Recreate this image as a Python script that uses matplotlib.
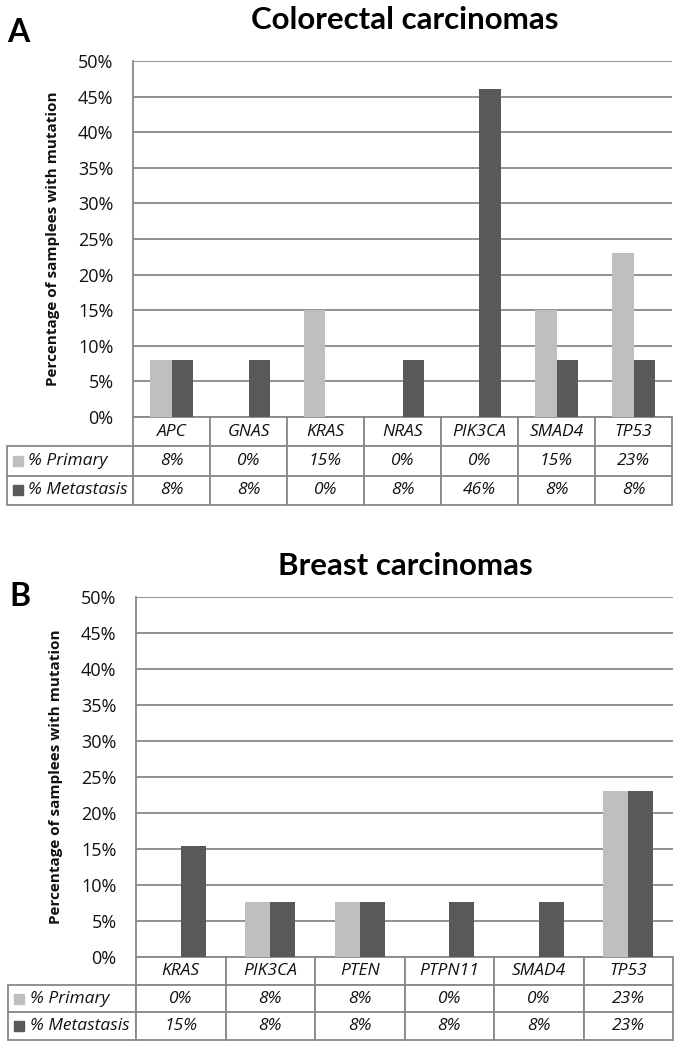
import matplotlib
matplotlib.use("Agg")
import matplotlib.pyplot as plt
from matplotlib.patches import Rectangle

# ---------------- datos ----------------
genes_crc = ["APC", "GNAS", "KRAS", "NRAS", "PIK3CA", "SMAD4", "TP53"]
primary_crc = [8, 0, 15, 0, 0, 15, 23]
metastasis_crc = [8, 8, 0, 8, 46, 8, 8]

genes_brca = ["KRAS", "PIK3CA", "PTEN", "PTPN11", "SMAD4", "TP53"]
primary_brca = [0, 7.7, 7.7, 0, 0, 23.1]
metastasis_brca = [15.4, 7.7, 7.7, 7.7, 7.7, 23.1]

series_names = ["% Primary", "% Metastasis"]
yticks = [0, 5, 10, 15, 20, 25, 30, 35, 40, 45, 50]

COL_PRI = "#BFBFBF"
COL_MET = "#595959"
GRID = "#888888"
TXT = "#111111"
SANS = ["Open Sans", "DejaVu Sans"]
TITLE_FONT = ["Lato", "DejaVu Sans"]

plt.rcParams["font.family"] = SANS

fig = plt.figure(figsize=(6.81, 10.5), dpi=100)


def panel(rect, genes, pri, met, title, letter, label_w, table_h, title_y, letter_xy):
    ax = fig.add_axes(rect)
    n = len(genes)
    x = list(range(n))
    w = 0.28
    ax.bar([i - w / 2 for i in x], pri, width=w, color=COL_PRI, zorder=3)
    ax.bar([i + w / 2 for i in x], met, width=w, color=COL_MET, zorder=3)
    ax.set_xlim(-0.5, n - 0.5)
    ax.set_ylim(0, 50)
    ax.set_yticks(yticks)
    ax.set_yticklabels([f"{v}%" for v in yticks], fontsize=13, color=TXT)
    ax.tick_params(axis="y", length=0, pad=14)
    ax.set_xticks([])
    ax.grid(axis="y", color=GRID, linewidth=1.3, zorder=0)
    for s in ["top", "right", "bottom"]:
        ax.spines[s].set_visible(False)
    ax.spines["left"].set_color(GRID)
    ax.spines["left"].set_linewidth(1.3)
    ax.set_ylabel("Percentage of samplees with mutation", fontsize=11,
                  fontweight="bold", color=TXT, va="center")
    ax.yaxis.set_label_coords(-80 / (rect[2] * 681), 0.5)

    # tabla de datos (estilo Excel); bbox = rejilla sin la columna de etiquetas
    cell_text = [[f"{round(v)}%" for v in pri], [f"{round(v)}%" for v in met]]
    tab = ax.table(cellText=cell_text, rowLabels=series_names, colLabels=genes,
                   colWidths=[1.0 / n] * n, cellLoc="center", rowLoc="left",
                   bbox=[0, -table_h, 1, table_h])
    tab._autoColumns = []
    tab.auto_set_font_size(False)
    for (r, c), cell in tab.get_celld().items():
        cell.set_edgecolor(GRID)
        cell.set_linewidth(1.3)
        cell.get_text().set_fontsize(12.5)
        cell.get_text().set_fontstyle("italic")
        cell.get_text().set_color(TXT)
        if c == -1:
            cell.set_width(label_w)
            cell.PAD = 0.17

    # cuadritos de leyenda
    sw = 10 / (rect[2] * 681)
    sh = 10 / (rect[3] * 1050)
    for k, col in enumerate([COL_PRI, COL_MET]):
        yc = -table_h * (1.5 + k) / 3
        ax.add_patch(Rectangle((-label_w + 6 / (rect[2] * 681), yc - sh / 2), sw, sh,
                               transform=ax.transAxes, color=col, clip_on=False))

    fig.text(0.595, title_y, title, fontsize=22.5, fontweight="bold", ha="center",
             va="center", family=TITLE_FONT)
    fig.text(letter_xy[0], letter_xy[1], letter, fontsize=23, fontweight="bold",
             ha="center", va="center", family=TITLE_FONT)
    return ax


panel([133 / 681, 1 - 417 / 1050, 539 / 681, 356 / 1050],
      genes_crc, primary_crc, metastasis_crc, "Colorectal carcinomas", "A",
      126 / 539, 88 / 356, 1 - 20 / 1050, (18 / 681, 1 - 33 / 1050))

panel([136 / 681, 1 - 957 / 1050, 537 / 681, 360 / 1050],
      genes_brca, primary_brca, metastasis_brca, "Breast carcinomas", "B",
      128 / 537, 83 / 360, 1 - 566 / 1050, (20 / 681, 1 - 597 / 1050))

fig.savefig("out.png", dpi=100, facecolor="white")
